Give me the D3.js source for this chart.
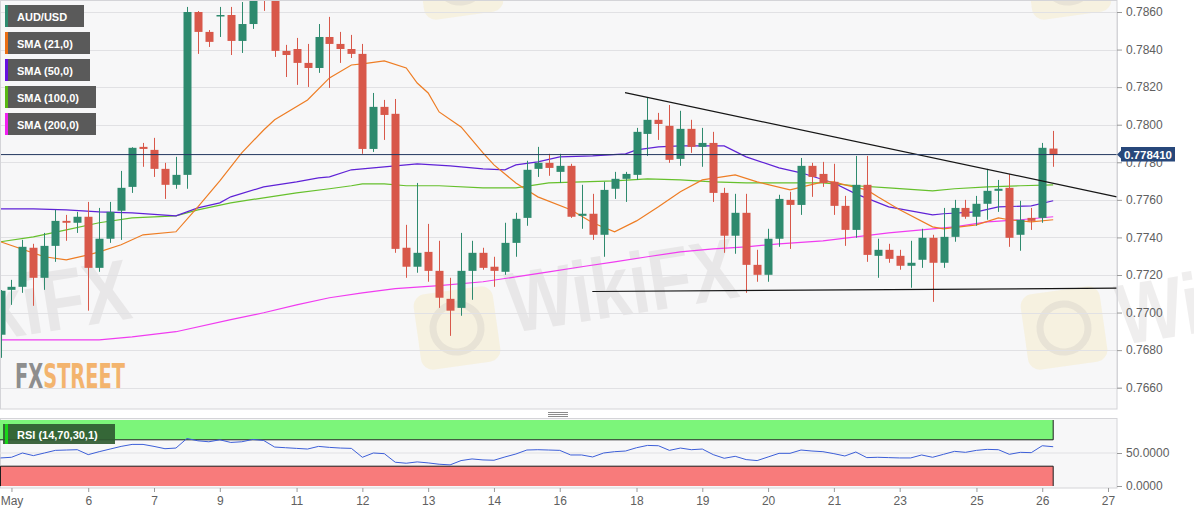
<!DOCTYPE html>
<html>
<head>
<meta charset="utf-8">
<script src="https://cdn.jsdelivr.net/npm/d3@7"></script>
<style>
  html, body { margin: 0; padding: 0; background: #ffffff; }
  svg { display: block; font-family: "Liberation Sans", Arial, sans-serif; }
</style>
</head>
<body>
<svg id="chart" width="1194" height="513"></svg>
<script>
// AUD/USD 4-hour candles, 5 May - 26 May
const opens = [0.76882,0.77121,0.77137,0.77345,0.77185,0.77355,0.77488,0.77478,0.77510,0.77238,
  0.77393,0.77542,0.77669,0.77882,0.77866,0.77765,0.77680,0.77733,0.78600,0.78494,
  0.78579,0.78584,0.78446,0.78536,0.78790,0.78720,0.78393,0.78403,0.78329,0.78302,
  0.78467,0.78430,0.78403,0.78377,0.77871,0.78095,0.78058,0.77345,0.77244,0.77323,
  0.77222,0.77073,0.77025,0.77222,0.77318,0.77244,0.77217,0.77371,0.77504,0.77765,
  0.77797,0.77749,0.77781,0.77515,0.77526,0.77414,0.77659,0.77712,0.77733,0.77951,
  0.78026,0.77994,0.77818,0.77978,0.77882,0.77903,0.77637,0.77409,0.77531,0.77254,
  0.77201,0.77393,0.77600,0.77573,0.77781,0.77738,0.77696,0.77568,0.77440,0.77680,
  0.77302,0.77334,0.77302,0.77249,0.77281,0.77398,0.77265,0.77403,0.77557,0.77510,
  0.77579,0.77648,0.77664,0.77414,0.77504,0.77504,0.77873];
const highs = [0.77120,0.77174,0.77387,0.77366,0.77424,0.77547,0.77520,0.77536,0.77589,0.77557,
  0.77589,0.77754,0.77880,0.77903,0.77930,0.77797,0.77829,0.78627,0.78605,0.78504,
  0.78627,0.78627,0.78653,0.78850,0.78910,0.78760,0.78425,0.78462,0.78430,0.78536,
  0.78574,0.78494,0.78478,0.78430,0.78169,0.78132,0.78137,0.77467,0.77690,0.77472,
  0.77382,0.77185,0.77424,0.77382,0.77345,0.77297,0.77478,0.77531,0.77808,0.77882,
  0.77845,0.77845,0.77792,0.77680,0.77632,0.77696,0.77749,0.77749,0.77983,0.78143,
  0.78063,0.78105,0.78074,0.78026,0.77983,0.77962,0.77664,0.77632,0.77632,0.77334,
  0.77446,0.77627,0.77643,0.77823,0.77797,0.77802,0.77792,0.77621,0.77834,0.77834,
  0.77393,0.77366,0.77334,0.77382,0.77446,0.77414,0.77557,0.77600,0.77600,0.77621,
  0.77765,0.77706,0.77738,0.77595,0.77557,0.77903,0.77967];
const lows = [0.76759,0.77041,0.77105,0.77036,0.77121,0.77270,0.77382,0.77424,0.77010,0.77217,
  0.77371,0.77387,0.77637,0.77776,0.77722,0.77605,0.77659,0.77659,0.78377,0.78414,
  0.78467,0.78371,0.78382,0.78510,0.78606,0.78361,0.78254,0.78212,0.78201,0.78276,
  0.78196,0.78329,0.78355,0.77845,0.77855,0.77919,0.77318,0.77185,0.77212,0.77164,
  0.77025,0.76876,0.76983,0.77068,0.77228,0.77137,0.77201,0.77297,0.77462,0.77722,
  0.77728,0.77690,0.77504,0.77446,0.77387,0.77297,0.77605,0.77589,0.77706,0.77834,
  0.77919,0.77797,0.77781,0.77850,0.77776,0.77589,0.77318,0.77313,0.77105,0.77164,
  0.77164,0.77350,0.77339,0.77520,0.77616,0.77669,0.77520,0.77355,0.77398,0.77270,
  0.77185,0.77265,0.77228,0.77132,0.77238,0.77057,0.77238,0.77377,0.77499,0.77462,
  0.77494,0.77536,0.77350,0.77329,0.77440,0.77478,0.77776];
const closes = [0.77116,0.77137,0.77350,0.77185,0.77355,0.77488,0.77478,0.77510,0.77238,0.77393,
  0.77536,0.77664,0.77877,0.77871,0.77765,0.77680,0.77733,0.78600,0.78494,0.78441,
  0.78584,0.78446,0.78536,0.78790,0.78720,0.78393,0.78371,0.78329,0.78302,0.78467,
  0.78430,0.78403,0.78377,0.77871,0.78095,0.78052,0.77339,0.77244,0.77318,0.77222,
  0.77079,0.77010,0.77222,0.77318,0.77238,0.77222,0.77371,0.77499,0.77760,0.77797,
  0.77770,0.77781,0.77510,0.77526,0.77414,0.77653,0.77712,0.77738,0.77962,0.78026,
  0.78004,0.77813,0.77978,0.77882,0.77903,0.77637,0.77409,0.77531,0.77254,0.77201,
  0.77393,0.77605,0.77573,0.77781,0.77722,0.77690,0.77568,0.77440,0.77680,0.77307,
  0.77334,0.77286,0.77249,0.77265,0.77398,0.77265,0.77403,0.77557,0.77510,0.77579,
  0.77648,0.77659,0.77398,0.77494,0.77488,0.77877,0.77841];

// Moving averages, sampled at candle indices
const sma21Idx = [0,4,6,8,9,11,13,16,18,20,22,24,25,28,30,32,33,35,37,38,39,40,42,43,44,45,47,48,49,52,54,56,58,60,62,64,67,69,72,75,76,77,79,80,82,85,86,89,91,92,94,96];
const sma21Val = [0.77377,0.77297,0.77281,0.77307,0.77323,0.77361,0.77414,0.77430,0.77563,0.77701,
  0.77850,0.77972,0.78026,0.78132,0.78249,0.78318,0.78324,0.78340,0.78302,0.78222,
  0.78169,0.78068,0.77988,0.77919,0.77850,0.77786,0.77690,0.77653,0.77616,0.77547,
  0.77478,0.77430,0.77488,0.77563,0.77643,0.77706,0.77733,0.77696,0.77653,0.77696,
  0.77696,0.77680,0.77653,0.77616,0.77547,0.77456,0.77446,0.77467,0.77504,0.77494,
  0.77483,0.77494];
const sma50Idx = [0,3,6,9,12,16,18,20,21,24,27,29,30,32,33,35,38,41,44,46,47,49,51,54,57,58,60,62,66,68,71,73,76,78,81,85,86,89,91,94,96];
const sma50Val = [0.77552,0.77552,0.77547,0.77536,0.77531,0.77515,0.77557,0.77584,0.77616,0.77669,
  0.77696,0.77717,0.77722,0.77760,0.77765,0.77776,0.77792,0.77781,0.77765,0.77760,
  0.77786,0.77802,0.77829,0.77834,0.77845,0.77866,0.77882,0.77887,0.77887,0.77829,
  0.77770,0.77744,0.77690,0.77632,0.77563,0.77520,0.77526,0.77536,0.77563,0.77568,
  0.77595];
const sma100Idx = [0,3,6,9,12,16,18,21,24,27,30,32,33,35,37,40,44,47,50,53,56,59,62,65,68,71,75,78,81,85,87,90,93,96];
const sma100Val = [0.77377,0.77403,0.77440,0.77478,0.77504,0.77515,0.77547,0.77584,0.77611,0.77637,
  0.77659,0.77675,0.77685,0.77685,0.77675,0.77675,0.77664,0.77664,0.77690,0.77696,
  0.77701,0.77712,0.77706,0.77696,0.77690,0.77690,0.77690,0.77675,0.77664,0.77648,
  0.77659,0.77669,0.77675,0.77680];
const sma200Idx = [0,9,12,16,21,24,27,30,33,36,40,44,47,50,53,56,59,62,65,68,71,75,78,81,85,87,90,93,96];
const sma200Val = [0.76855,0.76855,0.76871,0.76898,0.76962,0.76999,0.77041,0.77079,0.77105,0.77127,
  0.77143,0.77164,0.77190,0.77217,0.77244,0.77270,0.77297,0.77323,0.77339,0.77350,
  0.77366,0.77382,0.77403,0.77424,0.77446,0.77456,0.77483,0.77494,0.77510];

// RSI (14) per candle
const rsiValues = [42.5,43.5,50,46,50,54,54.5,55,47.5,52,
  56,60,63,63,60,56.5,57.5,72,68.5,67,
  70,66,67,70.5,69,59,58,57,56,60,
  58.5,57.5,57,43.5,50,49,36,34.5,36.5,35,
  33,32,38.5,41,39.5,39,44,48.5,54.5,55,
  54.5,54,47,47,44,50,52,53,58,61.5,
  61,54,57.5,55,56,47.5,42,45,40,38.5,
  44,49.5,49.5,54.5,53,52,49,45.5,51.5,43,
  43.5,43,42.5,42.5,47,43.5,48,52.5,51,54,
  55.5,55,48,51,50.5,61,59.5];

// Drawn trend lines: [candle index, price]
const resistanceLine = [[56.95, 0.78171], [101.8, 0.77616]];
const supportLine = [[53.97, 0.77112], [101.8, 0.77130]];
const lastPrice = 0.778410;

// Axis ticks
const priceTicks = [0.7660,0.7680,0.7700,0.7720,0.7740,0.7760,0.7780,0.7800,0.7820,0.7840,0.7860];
const rsiTicks = [0, 50];
const dayTickIdx = [1,8,14,20,27,33,39,45,51,58,64,70,76,82,89,95,101];
const dayTickLabels = ["May","6","7","9","11","12","13","14","16","18","19","20","21","23","25","26","27"];

// ---- layout ----
const PLOT_R = 1117, PLOT_B = 409;
const RSI_T = 418, RSI_B = 488;
const UP = "#2e8a6e", DOWN = "#d8584a";

const svg = d3.select("#chart");
const x = d3.scaleLinear().domain([0, 96]).range([0.5, 1053.2]);
const y = d3.scaleLinear().domain([0.7660, 0.7860]).range([387.7, 12]);
const ry = d3.scaleLinear().domain([0, 100]).range([486, 420]);

const defs = svg.append("defs");
defs.append("clipPath").attr("id", "plotClip")
  .append("rect").attr("x", 0).attr("y", 0).attr("width", PLOT_R).attr("height", PLOT_B);
defs.append("clipPath").attr("id", "rsiClip")
  .append("rect").attr("x", 0).attr("y", RSI_T).attr("width", PLOT_R).attr("height", RSI_B - RSI_T);

// plot backgrounds
svg.append("rect").attr("x", 0).attr("y", 0).attr("width", PLOT_R).attr("height", PLOT_B)
  .attr("fill", "#f7f7f8");
svg.append("rect").attr("x", 0).attr("y", RSI_T).attr("width", PLOT_R).attr("height", RSI_B - RSI_T)
  .attr("fill", "#f7f7f8");

// watermarks
const wm = svg.append("g").attr("pointer-events", "none");
function logoTile(cx, cy, rot) {
  const g = wm.append("g").attr("transform", `translate(${cx},${cy}) rotate(${rot})`);
  g.append("rect").attr("x", -40).attr("y", -38).attr("width", 80).attr("height", 76).attr("rx", 12)
    .attr("fill", "#f3e3a0").attr("opacity", 0.28);
  g.append("circle").attr("r", 24).attr("fill", "none").attr("stroke", "#b8b0b0")
    .attr("stroke-width", 7).attr("opacity", 0.22);
}
function wmText(tx, ty, rot, anchor) {
  wm.append("text").attr("transform", `translate(${tx},${ty}) rotate(${rot})`)
    .attr("text-anchor", anchor)
    .attr("font-size", 86).attr("font-weight", "bold")
    .attr("fill", "#a09898").attr("opacity", 0.16)
    .attr("textLength", 232).attr("lengthAdjust", "spacingAndGlyphs")
    .text("WikiFX");
}
logoTile(457, 328, -8);
logoTile(1064, 328, -8);
logoTile(460, -22, -8);
logoTile(1068, -22, -8);
wmText(512, 333, -9, "start");
wmText(134, 318, -9, "end");
wmText(1122, 345, -9, "start");

// gridlines
const grid = svg.append("g");
grid.selectAll("line.pg").data(priceTicks).join("line")
  .attr("x1", 0).attr("x2", PLOT_R)
  .attr("y1", d => Math.round(y(d)) + 0.5).attr("y2", d => Math.round(y(d)) + 0.5)
  .attr("stroke", "#e1e1e4").attr("stroke-width", 1);

// FXStreet logo
const logo = svg.append("text").attr("x", 15).attr("y", 388)
  .attr("font-family", "'Liberation Sans Narrow','DejaVu Sans Condensed',Arial,sans-serif")
  .attr("font-size", 33).attr("font-weight", "bold")
  .attr("textLength", 110).attr("lengthAdjust", "spacingAndGlyphs");
logo.append("tspan").attr("fill", "#8e8e8e").text("FX");
logo.append("tspan").attr("fill", "#f3b46e").text("STREET");

// main plot content
const main = svg.append("g").attr("clip-path", "url(#plotClip)");
const idx = d3.range(opens.length);

// moving averages
const lineGen = d3.line().x(d => x(d[0])).y(d => y(d[1]));
const smaSeries = [
  { idx: sma200Idx, val: sma200Val, color: "#f03cf0" },
  { idx: sma100Idx, val: sma100Val, color: "#66c02c" },
  { idx: sma50Idx, val: sma50Val, color: "#5f22d6" },
  { idx: sma21Idx, val: sma21Val, color: "#ee7d24" }
];
smaSeries.forEach(s => {
  main.append("path").datum(d3.zip(s.idx, s.val))
    .attr("d", lineGen).attr("fill", "none")
    .attr("stroke", s.color).attr("stroke-width", 1.2);
});

// candles
const candle = main.append("g").selectAll("g").data(idx).join("g");
candle.append("line")
  .attr("x1", i => Math.round(x(i)) + 0.5).attr("x2", i => Math.round(x(i)) + 0.5)
  .attr("y1", i => y(highs[i])).attr("y2", i => y(lows[i]))
  .attr("stroke", i => closes[i] >= opens[i] ? UP : DOWN).attr("stroke-width", 1);
candle.append("rect")
  .attr("x", i => Math.round(x(i)) - 3.5)
  .attr("width", 8)
  .attr("y", i => y(Math.max(opens[i], closes[i])))
  .attr("height", i => Math.max(1.5, Math.abs(y(opens[i]) - y(closes[i]))))
  .attr("fill", i => closes[i] >= opens[i] ? UP : DOWN);

// trend lines
[resistanceLine, supportLine].forEach(l => {
  main.append("path").datum(l).attr("d", lineGen)
    .attr("fill", "none").attr("stroke", "#161616").attr("stroke-width", 1.2);
});

// last price line
main.append("line").attr("x1", 0).attr("x2", PLOT_R)
  .attr("y1", y(lastPrice)).attr("y2", y(lastPrice))
  .attr("stroke", "#22375f").attr("stroke-width", 1);

// plot borders
svg.append("rect").attr("x", 0.5).attr("y", 0.5).attr("width", PLOT_R - 0.5).attr("height", PLOT_B - 0.5)
  .attr("fill", "none").attr("stroke", "#d4d4d8");
svg.append("rect").attr("x", 0.5).attr("y", RSI_T + 0.5).attr("width", PLOT_R - 0.5).attr("height", RSI_B - RSI_T - 0.5)
  .attr("fill", "none").attr("stroke", "#d4d4d8");

// price axis
const yAxis = svg.append("g").attr("transform", `translate(${PLOT_R},0)`)
  .call(d3.axisRight(y).tickValues(priceTicks).tickSize(5).tickPadding(4).tickFormat(d3.format(".4f")));
yAxis.select(".domain").attr("stroke", "#d4d4d8");
yAxis.selectAll(".tick line").attr("stroke", "#9a9a9a");
yAxis.selectAll(".tick text").attr("fill", "#606060").attr("font-size", 12)
  .attr("font-family", "'Liberation Sans',Arial,sans-serif");

// last price label
const ly = y(lastPrice);
svg.append("path")
  .attr("d", `M${PLOT_R},${ly} L${PLOT_R + 4},${ly - 4} L${PLOT_R + 4},${ly - 7.5} L1175,${ly - 7.5} L1175,${ly + 7} L${PLOT_R + 4},${ly + 7} L${PLOT_R + 4},${ly + 4} Z`)
  .attr("fill", "#27477a");
svg.append("text").attr("x", 1148).attr("y", ly + 4.2).attr("text-anchor", "middle")
  .attr("fill", "#ffffff").attr("font-size", 11.5).attr("font-weight", "bold")
  .text(d3.format(".6f")(lastPrice));

// legend
const legendItems = [
  { label: "AUD/USD", color: "#2e8b6f", w: 79 },
  { label: "SMA (21,0)", color: "#ea6e14", w: 85 },
  { label: "SMA (50,0)", color: "#6810e0", w: 85 },
  { label: "SMA (100,0)", color: "#58b814", w: 91 },
  { label: "SMA (200,0)", color: "#f020f0", w: 91 }
];
const lg = svg.append("g").selectAll("g").data(legendItems).join("g")
  .attr("transform", (d, i) => `translate(5,${5 + i * 27})`);
lg.append("rect").attr("width", d => d.w).attr("height", 22).attr("fill", "#5a5a5a");
lg.append("rect").attr("width", 3).attr("height", 22).attr("fill", d => d.color);
lg.append("text").attr("x", 12).attr("y", 15.5).attr("fill", "#ffffff")
  .attr("font-size", 11).attr("font-weight", "bold").text(d => d.label);

// ---- RSI panel ----
const rsiG = svg.append("g").attr("clip-path", "url(#rsiClip)");
const bandR = x(96);
rsiG.append("rect").attr("x", 0).attr("y", ry(100)).attr("width", bandR).attr("height", ry(70) - ry(100))
  .attr("fill", "#7cf57a");
rsiG.append("rect").attr("x", 0).attr("y", ry(30)).attr("width", bandR).attr("height", ry(0) - ry(30))
  .attr("fill", "#f87b7b");
rsiG.append("line").attr("x1", 0).attr("x2", PLOT_R).attr("y1", ry(50)).attr("y2", ry(50))
  .attr("stroke", "#e1e1e4");
rsiG.append("path")
  .attr("d", `M0,${ry(70)} H${bandR} V${ry(100)}`)
  .attr("fill", "none").attr("stroke", "#1e1e1e").attr("stroke-width", 1);
rsiG.append("path")
  .attr("d", `M0.5,${ry(0)} V${ry(30)} H${bandR} V${ry(0)}`)
  .attr("fill", "none").attr("stroke", "#1e1e1e").attr("stroke-width", 1);
rsiG.append("path").datum(idx)
  .attr("d", d3.line().x(i => x(i)).y(i => ry(rsiValues[i])))
  .attr("fill", "none").attr("stroke", "#3d5fd8").attr("stroke-width", 1);

// RSI label
const rl = svg.append("g").attr("transform", "translate(3,424)");
rl.append("rect").attr("width", 112).attr("height", 20).attr("fill", "#2f5a31").attr("opacity", 0.92);
rl.append("rect").attr("x", 2).attr("width", 3).attr("height", 20).attr("fill", "#18d418");
rl.append("text").attr("x", 14).attr("y", 14.5).attr("fill", "#ffffff")
  .attr("font-size", 11).attr("font-weight", "bold").text("RSI (14,70,30,1)");

// RSI axis
const rAxis = svg.append("g").attr("transform", `translate(${PLOT_R},0)`)
  .call(d3.axisRight(ry).tickValues(rsiTicks).tickSize(5).tickPadding(4).tickFormat(d3.format(".4f")));
rAxis.select(".domain").remove();
rAxis.selectAll(".tick line").attr("stroke", "#9a9a9a");
rAxis.selectAll(".tick text").attr("fill", "#606060").attr("font-size", 12)
  .attr("font-family", "'Liberation Sans',Arial,sans-serif");

// pane resize handle
svg.append("g").selectAll("line").data([412, 414, 416]).join("line")
  .attr("x1", 548).attr("x2", 568).attr("y1", d => d + 0.5).attr("y2", d => d + 0.5)
  .attr("stroke", "#8c8c8c");

// time axis
const xAxis = svg.append("g").attr("transform", `translate(0,${RSI_B})`)
  .call(d3.axisBottom(x).tickValues(dayTickIdx).tickSize(4).tickPadding(4)
    .tickFormat((d, i) => dayTickLabels[i]));
xAxis.select(".domain").remove();
xAxis.selectAll(".tick line").attr("stroke", "#9a9a9a");
xAxis.selectAll(".tick text").attr("fill", "#606060").attr("font-size", 12)
  .attr("font-family", "'Liberation Sans',Arial,sans-serif");
</script>
</body>
</html>
